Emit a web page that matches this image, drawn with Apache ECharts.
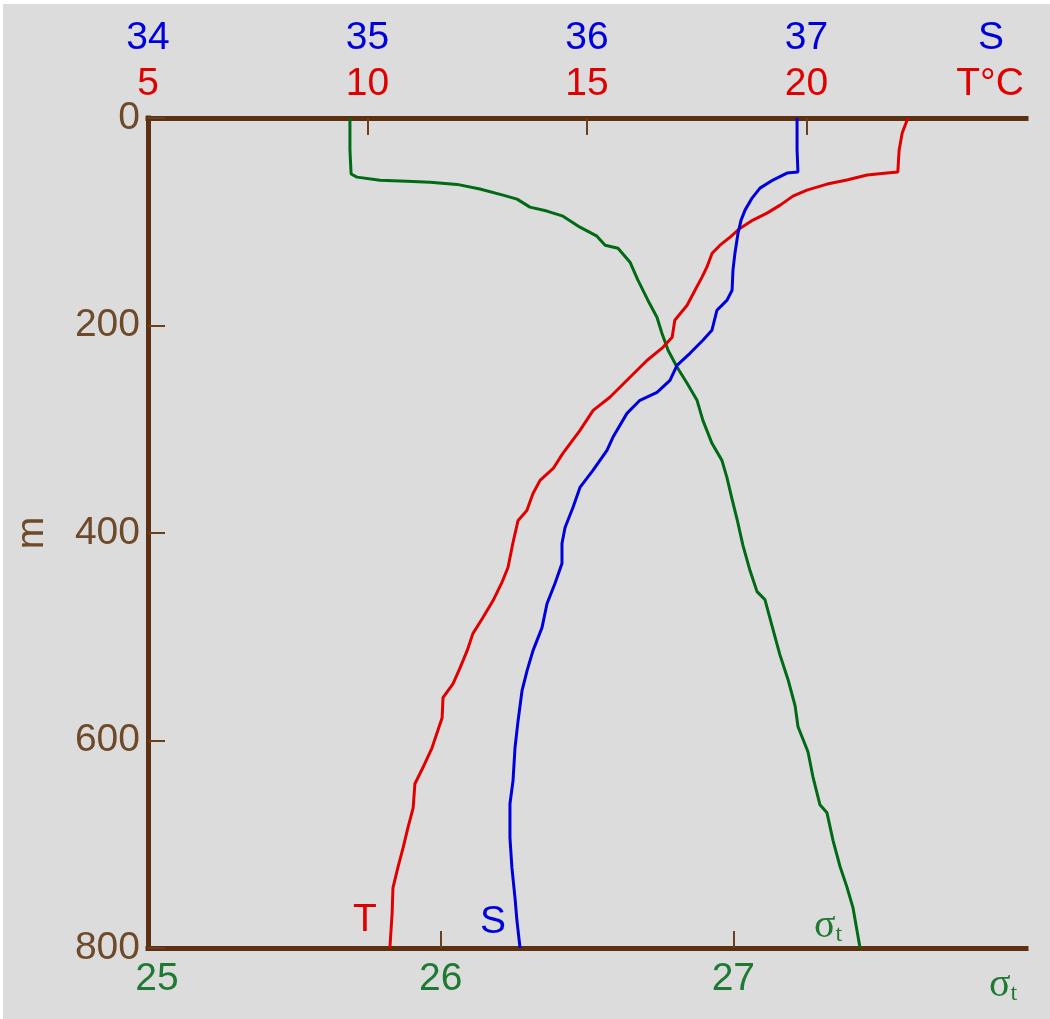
<!DOCTYPE html>
<html>
<head>
<meta charset="utf-8">
<script src="https://cdn.jsdelivr.net/npm/echarts@6/dist/echarts.min.js"></script>
<style>
  html, body { margin: 0; padding: 0; background: #ffffff; }
  #chart { width: 1050px; height: 1019px; }
</style>
</head>
<body>
<div id="chart"></div>
<script>
// Depth profiles (m) of density anomaly, salinity and temperature
const sigmaDepth = [0, 31, 54, 57, 60, 61, 62, 64, 68.5, 74.3, 78.2, 85.9, 89.7, 94.6, 105.2, 113.9, 122.6, 125.5, 139, 156.3,
  175.6, 192, 207.5, 223.9, 240.3, 255.7, 272.1, 291.4, 313.6, 330, 346.4, 366.7, 387, 412.1, 436.2, 456.5, 464.2, 489.3, 517.2, 541.4,
  566.5, 586.7, 610.9, 635, 662, 669.7, 696.7, 720.9, 741.1, 761.4, 800];
const sigmaValues = [25.69, 25.69, 25.694, 25.714, 25.793, 25.885, 25.964, 26.056, 26.134, 26.213, 26.261, 26.305, 26.363, 26.418, 26.476, 26.534, 26.562, 26.606, 26.647, 26.674,
  26.708, 26.739, 26.756, 26.777, 26.808, 26.842, 26.876, 26.896, 26.927, 26.961, 26.978, 26.995, 27.013, 27.033, 27.057, 27.081, 27.108, 27.132, 27.159, 27.187,
  27.211, 27.221, 27.255, 27.272, 27.296, 27.32, 27.341, 27.364, 27.388, 27.409, 27.433];

const salDepth = [0, 30.9, 52.1, 53.1, 59.8, 67.6, 77.2, 88.8, 98.4, 111, 130.3, 146.7, 166, 175.6, 185.3, 204.6, 214.2, 226.8, 238.4, 252.8,
  264.4, 272.1, 284.7, 307.8, 320.4, 339.7, 356.1, 375.4, 394.7, 410.1, 429.4, 448.7, 468, 491.2, 513.4, 532.7, 552, 580.9, 607, 638.8,
  661, 693.8, 722.8, 751.7, 774, 800];
const salValues = [36.957, 36.957, 36.961, 36.911, 36.847, 36.788, 36.752, 36.72, 36.702, 36.688, 36.674, 36.665, 36.661, 36.638, 36.592, 36.569, 36.528, 36.469, 36.41, 36.378,
  36.319, 36.241, 36.182, 36.118, 36.091, 36.027, 35.968, 35.936, 35.9, 35.886, 35.886, 35.854, 35.818, 35.795, 35.754, 35.727, 35.704, 35.686, 35.672, 35.663,
  35.649, 35.649, 35.658, 35.672, 35.681, 35.695];

const tempDepth = [0, 14.5, 30.9, 52.1, 53.1, 55, 59.8, 63.7, 69.5, 75.3, 84, 91.7, 98.4, 106.2, 114.8, 122.6, 130.3, 143.8, 153.4, 166,
  180.5, 194.9, 211.3, 221, 233.5, 252.8, 269.2, 281.8, 301.1, 323.3, 337.8, 349.3, 361.9, 378.3, 387.9, 410.1, 433.3, 447.8, 465.1, 481.5,
  497, 513.4, 529.8, 545.2, 558.7, 578, 607, 626.3, 641.7, 664.9, 684.2, 703.5, 722.8, 742.1, 767.2, 800];
const tempValues = [22.31, 22.18, 22.11, 22.08, 21.83, 21.38, 20.92, 20.47, 20.01, 19.69, 19.4, 19.1, 18.78, 18.49, 18.26, 18.03, 17.85, 17.73, 17.62, 17.46,
  17.28, 17.0, 16.94, 16.73, 16.37, 15.91, 15.52, 15.14, 14.84, 14.45, 14.23, 13.93, 13.77, 13.63, 13.43, 13.31, 13.2, 13.06, 12.86, 12.63,
  12.4, 12.27, 12.11, 11.95, 11.72, 11.7, 11.47, 11.26, 11.08, 11.04, 10.92, 10.81, 10.69, 10.58, 10.56, 10.51];

// Tick labels
const depthTicks = [0, 200, 400, 600, 800];
const salTicks = [34, 35, 36, 37];
const tempTicks = [5, 10, 15, 20];
const sigmaTicks = [25, 26, 27];

const BROWN = '#5c3010';
const BROWN_TEXT = '#6e4a2a';
const GREEN = '#006a14';
const GREEN_TEXT = '#1e7a32';
const BLUE = '#0000dc';
const RED = '#e00000';
const SANS = '"Liberation Sans", Arial, sans-serif';
const SERIF = '"Liberation Serif", "DejaVu Serif", serif';
const FS = 39;

const zip = (xs, ds) => xs.map((v, i) => [v, ds[i]]);

const axisLine = { show: true, onZero: false, lineStyle: { color: BROWN, width: 5, cap: 'square' } };
const tickStyle = { color: '#6a4020', width: 2 };
const sigmaRich = {
  s: { fill: GREEN_TEXT, font: '40px ' + SERIF },
  t: { fill: GREEN_TEXT, font: '24px ' + SERIF, padding: [18, 0, 0, 0] }
};

const chart = echarts.init(document.getElementById('chart'));
chart.setOption({
  backgroundColor: '#dcdcdc',
  animation: false,
  grid: { left: 148, top: 118, width: 878, height: 830, containLabel: false, outerBoundsMode: 'none' },
  xAxis: [
    { // density anomaly, bottom
      type: 'value', position: 'bottom', min: 25, max: 28,
      axisLine: axisLine,
      axisTick: { show: true, inside: true, length: 17, lineStyle: tickStyle, customValues: [26, 27] },
      axisLabel: {
        customValues: sigmaTicks, color: GREEN_TEXT, fontFamily: SANS, fontSize: FS, margin: 12,
        formatter: v => v === 25 ? '{f|25}' : String(v),
        rich: { f: { padding: [0, 0, 0, 18], fontFamily: SANS, fontSize: FS, color: GREEN_TEXT } }
      },
      splitLine: { show: false }
    },
    { // temperature, top
      type: 'value', position: 'top', min: 5, max: 25,
      axisLine: axisLine,
      axisTick: { show: true, inside: true, length: 17, lineStyle: tickStyle, customValues: [10, 15, 20] },
      axisLabel: { customValues: tempTicks, color: RED, fontFamily: SANS, fontSize: FS, margin: 14 },
      splitLine: { show: false }
    },
    { // salinity, top
      type: 'value', position: 'top', min: 34, max: 38,
      axisLine: { show: false, onZero: false }, axisTick: { show: false },
      axisLabel: { customValues: salTicks, color: BLUE, fontFamily: SANS, fontSize: FS, margin: 60 },
      splitLine: { show: false }
    }
  ],
  yAxis: {
    type: 'value', inverse: true, min: 0, max: 800, interval: 200,
    axisLine: axisLine,
    axisTick: { show: true, inside: true, length: 17, lineStyle: tickStyle },
    axisLabel: { customValues: depthTicks, color: BROWN_TEXT, fontFamily: SANS, fontSize: FS, margin: 8 },
    splitLine: { show: false },
    name: 'm', nameLocation: 'middle', nameGap: 96, nameRotate: 90,
    nameTextStyle: { color: BROWN_TEXT, fontFamily: SANS, fontSize: FS }
  },
  series: [
    { name: 'σt', type: 'line', xAxisIndex: 0, data: zip(sigmaValues, sigmaDepth),
      showSymbol: false, lineStyle: { color: GREEN, width: 3 }, z: 3 },
    { name: 'T', type: 'line', xAxisIndex: 1, data: zip(tempValues, tempDepth),
      showSymbol: false, lineStyle: { color: RED, width: 3 }, z: 4 },
    { name: 'S', type: 'line', xAxisIndex: 2, data: zip(salValues, salDepth),
      showSymbol: false, lineStyle: { color: BLUE, width: 3 }, z: 5 }
  ],
  graphic: [
    { type: 'rect', shape: { x: 0, y: 0, width: 1050, height: 4 }, style: { fill: '#ffffff' }, z: 100 },
    { type: 'rect', shape: { x: 0, y: 0, width: 3, height: 1019 }, style: { fill: '#ffffff' }, z: 100 },
    // axis names
    { type: 'text', x: 991, y: 38, style: { text: 'S', fill: BLUE, font: FS + 'px ' + SANS, align: 'center', verticalAlign: 'middle' } },
    { type: 'text', x: 990, y: 84, style: { text: 'T°C', fill: RED, font: FS + 'px ' + SANS, align: 'center', verticalAlign: 'middle' } },
    { type: 'text', x: 1003, y: 985, style: { text: '{s|σ}{t|t}', align: 'center', verticalAlign: 'middle', rich: sigmaRich } },
    // curve labels
    { type: 'text', x: 365, y: 920, style: { text: 'T', fill: RED, font: FS + 'px ' + SANS, align: 'center', verticalAlign: 'middle' } },
    { type: 'text', x: 493, y: 922, style: { text: 'S', fill: BLUE, font: FS + 'px ' + SANS, align: 'center', verticalAlign: 'middle' } },
    { type: 'text', x: 828, y: 926, style: { text: '{s|σ}{t|t}', align: 'center', verticalAlign: 'middle', rich: sigmaRich } }
  ]
});
</script>
</body>
</html>
